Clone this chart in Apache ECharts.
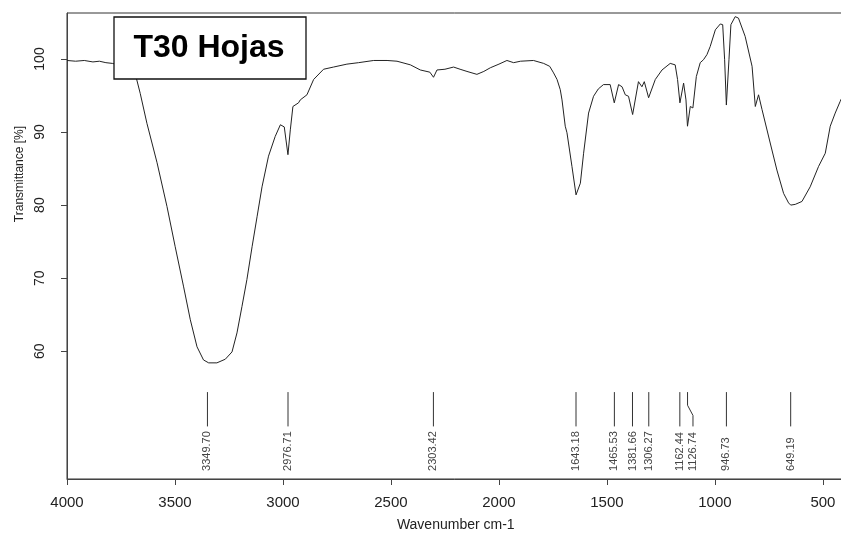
<!DOCTYPE html>
<html lang="es">
<head>
    <meta charset="UTF-8">
    <title>T30 Hojas</title>
    <script src="https://cdn.jsdelivr.net/npm/echarts@6/dist/echarts.min.js"></script>
    <style>
        html, body { margin: 0; padding: 0; background: #fff; }
        #chart { width: 841px; height: 534px; }
    </style>
</head>
<body>
    <div id="chart"></div>
    <script>
        // spectrum (wavenumber cm-1, transmittance %)
        const wavenumber = [
            4000, 3960, 3920, 3880, 3850, 3820, 3790, 3760, 3730, 3700,
            3679, 3661, 3630, 3583, 3537, 3499, 3460, 3429, 3398, 3368,
            3344, 3306, 3267, 3236, 3213, 3190, 3167, 3143, 3120, 3097,
            3067, 3036, 3012, 2994, 2977, 2966, 2954, 2928, 2920, 2889,
            2858, 2812, 2766, 2704, 2650, 2580, 2518, 2472, 2410, 2364,
            2320, 2303, 2287, 2250, 2210, 2180, 2148, 2102, 2070, 2040,
            2000, 1963, 1932, 1900, 1840, 1793, 1765, 1747, 1731, 1716,
            1708, 1693, 1685, 1662, 1643, 1623, 1608, 1585, 1562, 1540,
            1516, 1485, 1466, 1446, 1430, 1415, 1400, 1381, 1354, 1338,
            1327, 1307, 1276, 1245, 1207, 1184, 1173, 1162, 1145, 1134,
            1127, 1114, 1102, 1086, 1068, 1053, 1037, 1022, 998, 975,
            964, 955, 947, 935, 926, 906, 891, 860, 828, 813,
            798, 782, 744, 713, 682, 659, 649, 628, 597, 559,
            520, 489, 466, 443, 420, 400
        ];
        const transmittance = [
            99.8, 99.7, 99.8, 99.6, 99.7, 99.5, 99.4, 99.2, 98.8, 98.2,
            97.4, 95.3, 91.2, 85.8, 79.8, 74.3, 68.8, 64.3, 60.6, 58.8,
            58.4, 58.4, 58.9, 59.9, 62.5, 66.1, 69.8, 74.3, 78.4, 82.5,
            86.7, 89.4, 91.0, 90.7, 86.9, 90.3, 93.5, 94.0, 94.4, 95.1,
            97.2, 98.6, 98.9, 99.3, 99.5, 99.8, 99.8, 99.7, 99.2, 98.5,
            98.2, 97.5, 98.5, 98.6, 98.9, 98.6, 98.3, 97.9, 98.3, 98.8,
            99.3, 99.8, 99.5, 99.7, 99.8, 99.4, 99.0, 98.1, 97.2, 95.8,
            94.4, 90.8, 89.9, 85.3, 81.4, 83.0, 87.1, 92.6, 94.9, 95.9,
            96.5, 96.5, 94.0, 96.5, 96.2, 95.1, 94.9, 92.4, 96.9, 96.2,
            96.9, 94.7, 97.2, 98.5, 99.4, 99.2, 97.2, 94.0, 96.7, 94.4,
            90.8, 93.5, 93.3, 97.6, 99.5, 99.9, 100.6, 101.7, 104.0, 104.8,
            104.7, 99.9, 93.7, 99.9, 104.7, 105.8, 105.6, 103.1, 99.0, 93.5,
            95.1, 93.1, 88.5, 84.8, 81.6, 80.3, 80.0, 80.1, 80.5, 82.5,
            85.3, 87.1, 90.8, 92.6, 94.2, 95.5
        ];

        // picked peaks and where their labels sit on the wavenumber axis
        const peaks = [3349.70, 2976.71, 2303.42, 1643.18, 1465.53, 1381.66, 1306.27, 1162.44, 1126.74, 946.73, 649.19];
        const peakLabelAt = [3349.70, 2976.71, 2303.42, 1643.18, 1465.53, 1381.66, 1306.27, 1162.44, 1101.6, 946.73, 649.19];

        const xTicks = [4000, 3500, 3000, 2500, 2000, 1500, 1000, 500];
        const yTicks = [60, 70, 80, 90, 100];

        const spectrum = wavenumber.map((w, i) => [w, transmittance[i]]);
        const peakData = peaks.map((p, i) => [p, peakLabelAt[i]]);

        const chart = echarts.init(document.getElementById('chart'));
        const font = 'Arial, "Liberation Sans", sans-serif';

        chart.setOption({
            animation: false,
            grid: {
                left: 67, right: -3.5, top: 13, bottom: 55,
                outerBoundsMode: 'none',
                containLabel: false,
                show: true, borderColor: '#333', borderWidth: 1
            },
            xAxis: {
                type: 'value',
                inverse: true,
                min: 400,
                max: 4000,
                name: 'Wavenumber cm-1',
                nameLocation: 'middle',
                nameGap: 39,
                nameTextStyle: { fontFamily: font, fontSize: 14, color: '#222' },
                splitLine: { show: false },
                axisLine: { lineStyle: { color: '#444' } },
                axisTick: { customValues: xTicks, length: 6, lineStyle: { color: '#444' } },
                axisLabel: {
                    customValues: xTicks, margin: 16,
                    formatter: v => String(v),
                    fontFamily: font, fontSize: 15, color: '#222'
                }
            },
            yAxis: {
                type: 'value',
                min: 42.5,
                max: 106.3,
                splitLine: { show: false },
                axisLine: { show: true, lineStyle: { color: '#444' } },
                axisTick: { show: true, customValues: yTicks, length: 6, lineStyle: { color: '#444' } },
                axisLabel: {
                    customValues: yTicks, rotate: 90, margin: 20,
                    fontFamily: font, fontSize: 14, color: '#222'
                }
            },
            graphic: [
                {
                    type: 'text', x: 20, y: 174, rotation: Math.PI / 2,
                    style: {
                        text: 'Transmittance [%]', fontFamily: font, fontSize: 12,
                        fill: '#222', textAlign: 'center', textVerticalAlign: 'middle'
                    }
                },
                {
                    type: 'rect', x: 114, y: 17, z: 100,
                    shape: { width: 192, height: 62 },
                    style: { fill: '#fff', stroke: '#111', lineWidth: 1.3 }
                },
                {
                    type: 'text', x: 209, y: 48, z: 101,
                    style: {
                        text: 'T30 Hojas', fontFamily: font, fontSize: 32, fontWeight: 'bold',
                        fill: '#000', textAlign: 'center', textVerticalAlign: 'middle'
                    }
                }
            ],
            series: [
                {
                    type: 'line',
                    data: spectrum,
                    showSymbol: false,
                    lineStyle: { color: '#222', width: 1 },
                    z: 3
                },
                {
                    type: 'custom',
                    data: peakData,
                    encode: { x: [0, 1], y: -1 },
                    renderItem(params, api) {
                        const w = api.value(0);
                        const lw = api.value(1);
                        const top = api.coord([w, 54.4]);
                        const bend1 = api.coord([w, 52.6]);
                        const bend2 = api.coord([lw, 51.2]);
                        const bot = api.coord([lw, 49.7]);
                        const txt = api.coord([lw, 43.6]);
                        const pts = w === lw ? [top, bot] : [top, bend1, bend2, bot];
                        return {
                            type: 'group',
                            children: [
                                {
                                    type: 'polyline',
                                    shape: { points: pts },
                                    style: { stroke: '#333', lineWidth: 1, fill: null }
                                },
                                {
                                    type: 'text',
                                    x: txt[0], y: txt[1], rotation: Math.PI / 2,
                                    style: {
                                        text: peaks[params.dataIndex].toFixed(2),
                                        fontFamily: font, fontSize: 11, fill: '#444',
                                        textAlign: 'left', textVerticalAlign: 'middle'
                                    }
                                }
                            ]
                        };
                    },
                    z: 4
                }
            ]
        });
    </script>
</body>
</html>
